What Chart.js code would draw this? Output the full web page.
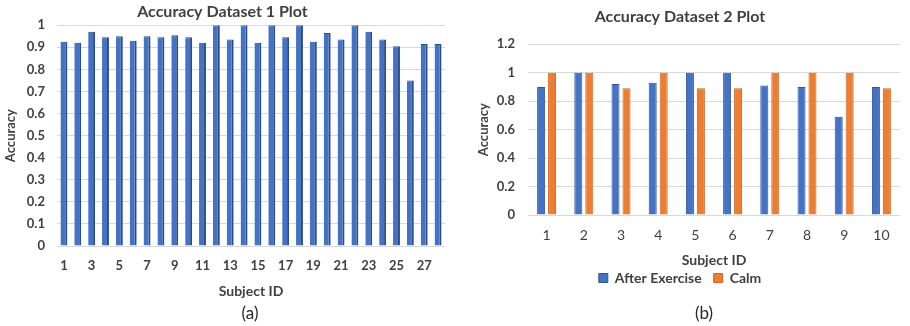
<!DOCTYPE html>
<html>
<head>
<meta charset="utf-8">
<script src="https://cdn.jsdelivr.net/npm/chart.js@4/dist/chart.umd.min.js"></script>
<style>
  html, body { margin: 0; padding: 0; background: #fff; }
  #wrap { position: relative; width: 910px; height: 326px; overflow: hidden; }
  canvas { position: absolute; top: 0; }
  #c1 { left: 0; }
  #c2 { left: 460px; }
  .cap { position: absolute; font-family: Lato, "Noto Sans", sans-serif; font-size: 17px; color: #262626; transform: translate(-50%, -50%); }
</style>
</head>
<body>
<div id="wrap">
  <canvas id="c1" width="460" height="326"></canvas>
  <canvas id="c2" width="450" height="326"></canvas>
  <div class="cap" style="left:250px; top:312px;">(a)</div>
  <div class="cap" style="left:704px; top:312px;">(b)</div>
</div>
<script>
// Dataset 1: accuracy per subject
const subjects1 = [1, 2, 3, 4, 5, 6, 7, 8, 9, 10, 11, 12, 13, 14, 15, 16, 17, 18, 19, 20, 21, 22, 23, 24, 25, 26, 27, 28];
const accuracy1 = [0.925, 0.92, 0.97, 0.945, 0.95, 0.93, 0.95, 0.945, 0.955, 0.945, 0.92, 1.0, 0.935, 1.0,
                   0.92, 1.0, 0.945, 1.0, 0.925, 0.965, 0.935, 1.0, 0.97, 0.935, 0.905, 0.75, 0.915, 0.915];

// Dataset 2: accuracy per subject, two conditions
const subjects2 = [1, 2, 3, 4, 5, 6, 7, 8, 9, 10];
const afterExercise = [0.9, 1.0, 0.92, 0.93, 1.0, 1.0, 0.91, 0.9, 0.69, 0.9];
const calm = [1.0, 1.0, 0.89, 1.0, 0.89, 0.89, 1.0, 1.0, 1.0, 0.89];

const FONT = 'Lato, "Noto Sans", sans-serif';
const TEXT = '#404040';
const GRID = '#d9d9d9';

// "1", "0.9", "1.2" style tick text
const shortNum = v => String(Number(v.toFixed(1)));

new Chart(document.getElementById('c1'), {
  type: 'bar',
  data: {
    labels: subjects1,
    datasets: [{
      data: accuracy1,
      backgroundColor: '#4472C4',
      borderColor: '#2B4C8A',
      borderWidth: { top: 1, right: 2, left: 0, bottom: 0 },
      borderSkipped: false,
      categoryPercentage: 1.0,
      barPercentage: 0.5
    }]
  },
  options: {
    responsive: false,
    animation: false,
    layout: { padding: { left: 0, right: 15, top: 0, bottom: 26 } },
    plugins: {
      legend: { display: false },
      tooltip: { enabled: false },
      title: {
        display: true,
        text: 'Accuracy Dataset 1 Plot',
        color: TEXT,
        font: { family: FONT, size: 16, weight: 'bold' },
        padding: { top: 2, bottom: 4 }
      }
    },
    scales: {
      x: {
        grid: { display: false },
        border: { display: false },
        ticks: {
          autoSkip: false,
          maxRotation: 0,
          color: TEXT,
          font: { family: FONT, size: 13, weight: 'bold' },
          padding: 4,
          callback: function (v, i) { return i % 2 === 0 ? this.getLabelForValue(v) : ''; }
        },
        title: {
          display: true,
          text: 'Subject ID',
          color: TEXT,
          font: { family: FONT, size: 14, weight: 'bold' },
          padding: { top: 0, bottom: 0 }
        },
        afterFit: function (s) { s.height = 54; }
      },
      y: {
        min: 0,
        max: 1,
        ticks: {
          stepSize: 0.1,
          color: TEXT,
          font: { family: FONT, size: 13, weight: 'bold' },
          padding: 12,
          callback: v => shortNum(v)
        },
        grid: { color: GRID, drawTicks: false },
        border: { display: false },
        title: {
          display: true,
          text: 'Accuracy',
          color: TEXT,
          font: { family: FONT, size: 13, weight: 'bold' },
          padding: { top: 3, bottom: 0 }
        },
        afterFit: function (s) { s.width = 57; }
      }
    }
  }
});

new Chart(document.getElementById('c2'), {
  type: 'bar',
  data: {
    labels: subjects2,
    datasets: [{
      label: 'After Exercise',
      data: afterExercise,
      backgroundColor: '#4472C4',
      borderColor: '#2F5597',
      borderWidth: 1,
      categoryPercentage: 0.59,
      barPercentage: 0.73
    }, {
      label: 'Calm',
      data: calm,
      backgroundColor: '#ED7D31',
      borderColor: '#D0661F',
      borderWidth: 1,
      categoryPercentage: 0.59,
      barPercentage: 0.73
    }]
  },
  options: {
    responsive: false,
    animation: false,
    layout: { padding: { left: 0, right: 10, top: 0, bottom: 31 } },
    plugins: {
      tooltip: { enabled: false },
      title: {
        display: true,
        text: 'Accuracy Dataset 2 Plot',
        color: TEXT,
        font: { family: FONT, size: 16, weight: 'bold' },
        padding: { top: 7, bottom: 18 }
      },
      legend: {
        position: 'bottom',
        labels: {
          color: TEXT,
          font: { family: FONT, size: 14, weight: 'bold' },
          boxWidth: 9,
          boxHeight: 9,
          padding: 12
        }
      }
    },
    scales: {
      x: {
        grid: { display: false },
        border: { display: false },
        ticks: {
          color: TEXT,
          font: { family: FONT, size: 14 },
          padding: 4
        },
        title: {
          display: true,
          text: 'Subject ID',
          color: TEXT,
          font: { family: FONT, size: 14, weight: 'bold' },
          padding: { top: 0, bottom: -10 }
        },
        afterFit: function (s) { s.height = 44; }
      },
      y: {
        min: 0,
        max: 1.2,
        ticks: {
          stepSize: 0.2,
          color: TEXT,
          font: { family: FONT, size: 13, weight: 'bold' },
          padding: 13,
          callback: v => shortNum(v)
        },
        grid: { color: GRID, drawTicks: false },
        border: { display: false },
        title: {
          display: true,
          text: 'Accuracy',
          color: TEXT,
          font: { family: FONT, size: 13, weight: 'bold' },
          padding: { top: 16, bottom: 0 }
        },
        afterFit: function (s) { s.width = 68; }
      }
    }
  }
});
</script>
</body>
</html>
